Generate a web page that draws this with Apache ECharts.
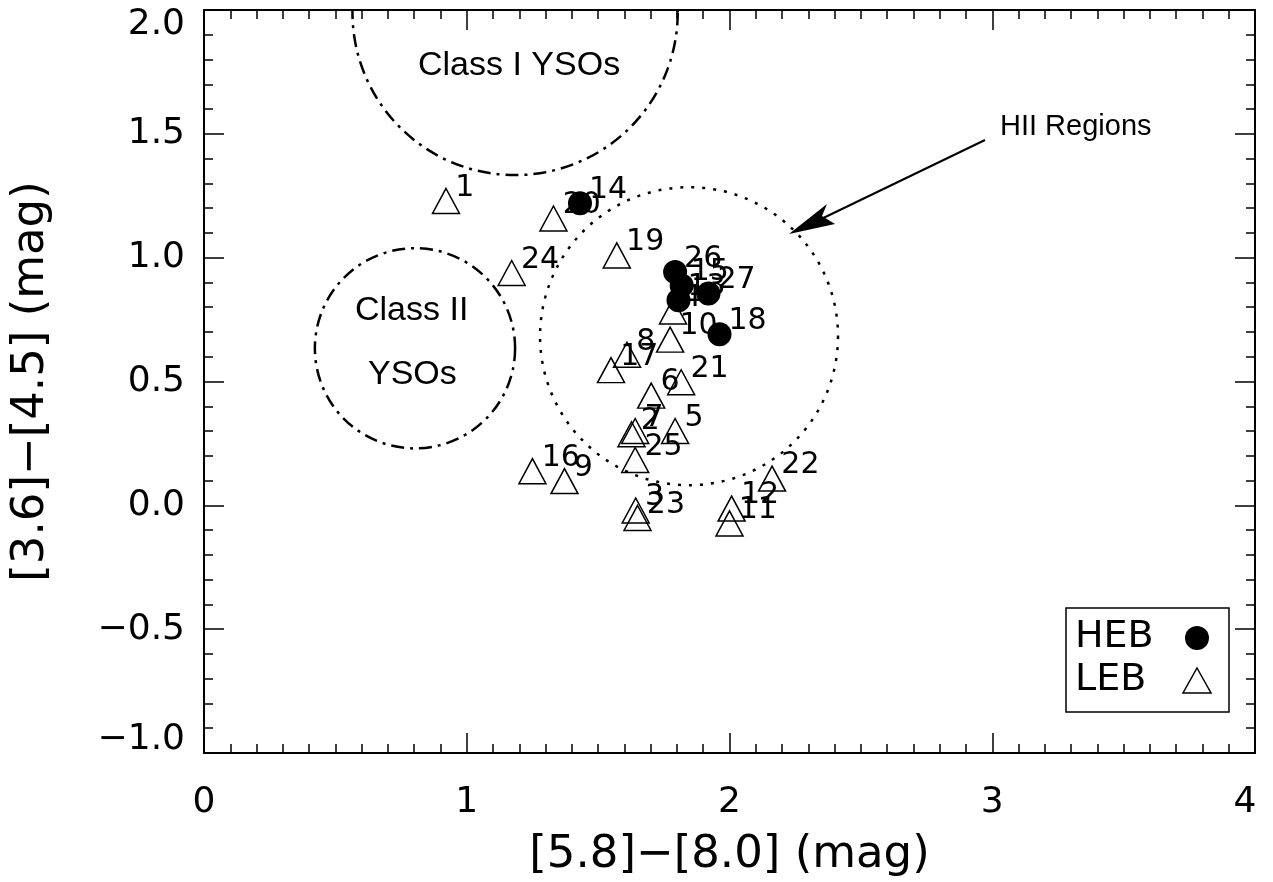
<!DOCTYPE html>
<html>
<head>
<meta charset="utf-8">
<script src="https://cdn.jsdelivr.net/npm/echarts@6/dist/echarts.min.js"></script>
<style>
html,body{margin:0;padding:0;background:#fff;}
#chart{width:1273px;height:882px;}
</style>
</head>
<body>
<div id="chart"></div>
<script>
// ---- Data ----
const hebLabels = ['14', '26', '15', '13', '27', '18'];
const hebX = [1.431, 1.793, 1.818, 1.806, 1.920, 1.962];
const hebY = [1.220, 0.942, 0.888, 0.828, 0.855, 0.691];

const lebLabels = ['1', '20', '24', '19', '4', '10', '17', '8', '21', '6', '2', '7', '5', '25', '16', '9', '3', '23', '12', '11', '22'];
const lebX = [0.921, 1.330, 1.171, 1.571, 1.785, 1.774, 1.549, 1.610, 1.816, 1.702, 1.627, 1.641, 1.793, 1.641, 1.250, 1.372, 1.643, 1.650, 2.008, 2.000, 2.162];
const lebY = [1.229, 1.158, 0.938, 1.009, 0.783, 0.669, 0.546, 0.608, 0.497, 0.443, 0.287, 0.300, 0.300, 0.183, 0.138, 0.098, -0.021, -0.051, -0.013, -0.073, 0.108];

// Region outlines: centre (x, y) and radius in x-axis units
const regionNames = ['Class I YSOs', 'Class II YSOs', 'HII Regions'];
const regionX = [1.184, 0.803, 1.846];
const regionY = [1.99, 0.634, 0.683];
const regionR = [0.619, 0.381, 0.567];
const regionDotted = [false, false, true];

const xTitle = '[5.8]\u2212[8.0] (mag)';
const yTitle = '[3.6]\u2212[4.5] (mag)';

const tickFont = "'DejaVu Sans', sans-serif";
const annFont = '"Liberation Sans", Arial, sans-serif';

// ---- Chart ----
const chart = echarts.init(document.getElementById('chart'), null, {renderer: 'canvas'});

function axisCommon(extra) {
  return Object.assign({
    type: 'value',
    axisLine: {show: true, onZero: false, lineStyle: {color: '#000', width: 2}},
    axisTick: {show: true, inside: true, length: 20, lineStyle: {color: '#000', width: 1.5}},
    minorTick: {show: true, length: 9, lineStyle: {color: '#000', width: 1.5}},
    splitLine: {show: false},
    minorSplitLine: {show: false}
  }, extra);
}

const yFmt = v => {
  const s = v.toFixed(1).replace('-', '\u2212');
  if (v >= 2) return '{top|' + s + '}';
  if (v <= -1) return '{bot|' + s + '}';
  return s;
};
const xFmt = v => (v >= 4 ? '{end|' + v + '}' : String(v));

const option = {
  animation: false,
  backgroundColor: '#fff',
  grid: {left: 204, right: 18, top: 10, bottom: 129, containLabel: false, outerBoundsMode: 'none'},
  xAxis: [
    axisCommon({
      min: 0, max: 4, interval: 1, position: 'bottom',
      minorTick: {show: true, splitNumber: 10, length: 9, lineStyle: {color: '#000', width: 1.5}},
      axisLabel: {
        margin: 32, fontSize: 36, color: '#000', fontFamily: tickFont, formatter: xFmt,
        rich: {end: {fontSize: 36, fontFamily: tickFont, color: '#000', padding: [0, 20, 0, 0]}}
      },
      name: xTitle, nameLocation: 'middle', nameGap: 80,
      nameTextStyle: {fontSize: 45, color: '#000', fontFamily: tickFont}
    }),
    axisCommon({
      min: 0, max: 4, interval: 1, position: 'top',
      minorTick: {show: true, splitNumber: 10, length: 9, lineStyle: {color: '#000', width: 1.5}},
      axisLabel: {show: false}
    })
  ],
  yAxis: [
    axisCommon({
      min: -1, max: 2, interval: 0.5, position: 'left',
      minorTick: {show: true, splitNumber: 5, length: 9, lineStyle: {color: '#000', width: 1.5}},
      axisLabel: {
        margin: 19, fontSize: 36, color: '#000', fontFamily: tickFont, formatter: yFmt,
        rich: {
          top: {fontSize: 36, fontFamily: tickFont, color: '#000', padding: [30, 0, 0, 0]},
          bot: {fontSize: 36, fontFamily: tickFont, color: '#000', padding: [0, 0, 26, 0]}
        }
      },
      name: yTitle, nameLocation: 'middle', nameGap: 150, nameRotate: 90,
      nameTextStyle: {fontSize: 45, color: '#000', fontFamily: tickFont}
    }),
    axisCommon({
      min: -1, max: 2, interval: 0.5, position: 'right',
      minorTick: {show: true, splitNumber: 5, length: 9, lineStyle: {color: '#000', width: 1.5}},
      axisLabel: {show: false}
    })
  ],
  series: [
    {
      type: 'custom',
      name: 'regions',
      xAxisIndex: 0, yAxisIndex: 0,
      data: regionX.map((x, i) => [x, regionY[i], regionR[i]]),
      z: 1,
      silent: true,
      renderItem: function (params, api) {
        const c = api.coord([api.value(0), api.value(1)]);
        const r = api.size([api.value(2), 0])[0];
        const cs = params.coordSys;
        const dotted = regionDotted[params.dataIndex];
        return {
          type: 'circle',
          shape: {cx: c[0], cy: c[1], r: r},
          style: {
            fill: null, stroke: '#000', lineWidth: 2.5,
            lineDash: dotted ? [3, 8] : [13, 6, 3, 6]
          },
          clipPath: {type: 'rect', shape: {x: cs.x, y: cs.y, width: cs.width, height: cs.height}}
        };
      }
    },
    {
      type: 'scatter',
      name: 'LEB',
      xAxisIndex: 0, yAxisIndex: 0,
      data: lebX.map((x, i) => [x, lebY[i], lebLabels[i]]),
      symbol: 'triangle',
      symbolSize: [27, 25],
      itemStyle: {color: 'rgba(0,0,0,0)', borderColor: '#000', borderWidth: 1.5, opacity: 1},
      label: {
        show: true, formatter: p => p.data[2], position: 'right', distance: 0,
        offset: [-5, -13], fontSize: 30, color: '#000', fontFamily: tickFont
      },
      emphasis: {disabled: true},
      z: 3
    },
    {
      type: 'scatter',
      name: 'HEB',
      xAxisIndex: 0, yAxisIndex: 0,
      data: hebX.map((x, i) => [x, hebY[i], hebLabels[i]]),
      symbol: 'circle',
      symbolSize: 24,
      itemStyle: {color: '#000', opacity: 1},
      label: {
        show: true, formatter: p => p.data[2], position: 'right', distance: 0,
        offset: [-3, -13], fontSize: 30, color: '#000', fontFamily: tickFont
      },
      emphasis: {disabled: true},
      z: 4
    }
  ],
  graphic: [
    {type: 'text', left: 418, top: 49, style: {text: 'Class I YSOs', font: '34px ' + annFont, fill: '#000'}},
    {type: 'text', left: 355, top: 294, style: {text: 'Class II', font: '34px ' + annFont, fill: '#000'}},
    {type: 'text', left: 368, top: 358, style: {text: 'YSOs', font: '34px ' + annFont, fill: '#000'}},
    {type: 'text', left: 1000, top: 112, style: {text: 'HII Regions', font: '29px ' + annFont, fill: '#000'}},
    {type: 'line', shape: {x1: 985, y1: 140, x2: 815, y2: 222}, style: {stroke: '#000', lineWidth: 2}},
    {type: 'polygon', shape: {points: [[789, 234], [835, 224], [822, 216], [827, 204]]}, style: {fill: '#000'}},
    {type: 'rect', shape: {x: 1066, y: 608, width: 163, height: 104}, style: {fill: '#fff', stroke: '#000', lineWidth: 1.5}, z: 10},
    {type: 'text', left: 1075, top: 618, style: {text: 'HEB', font: '38px ' + tickFont, fill: '#000'}, z: 11},
    {type: 'circle', shape: {cx: 1197, cy: 638, r: 12}, style: {fill: '#000'}, z: 11},
    {type: 'text', left: 1075, top: 661, style: {text: 'LEB', font: '38px ' + tickFont, fill: '#000'}, z: 11},
    {type: 'polygon', shape: {points: [[1197, 668], [1211, 693], [1183, 693]]}, style: {fill: null, stroke: '#000', lineWidth: 1.5}, z: 11}
  ]
};

chart.setOption(option);
</script>
</body>
</html>
